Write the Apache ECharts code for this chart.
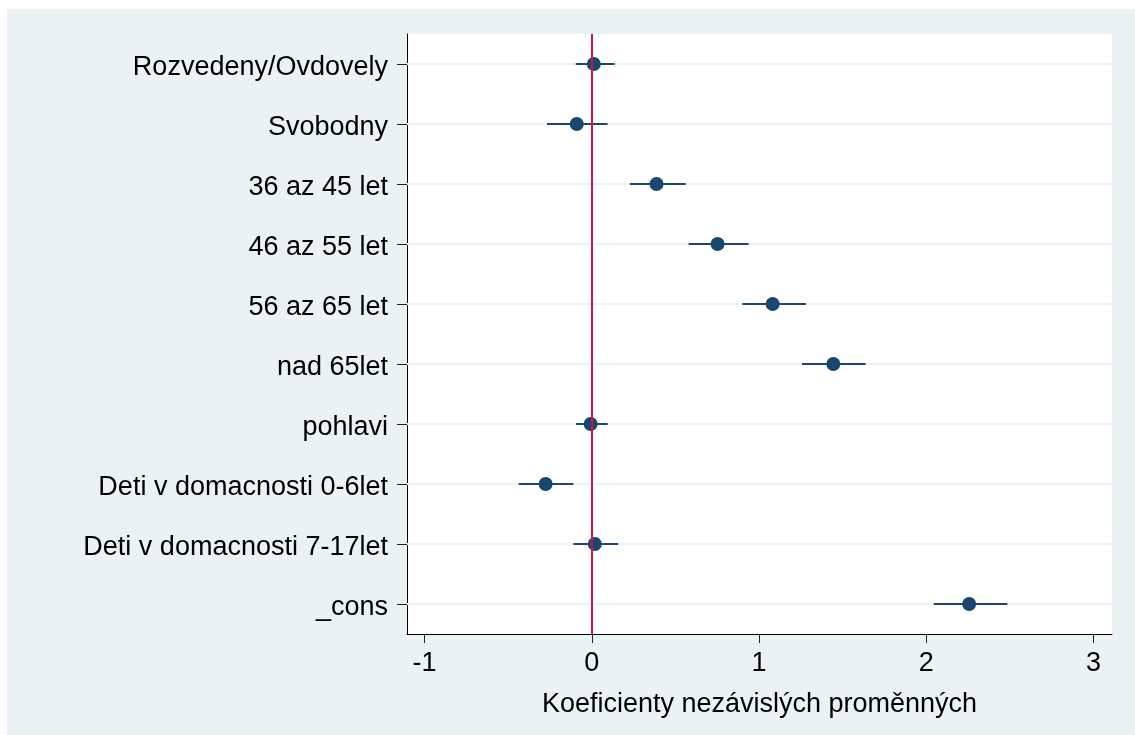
<!DOCTYPE html>
<html>
<head>
<meta charset="utf-8">
<script src="https://cdn.jsdelivr.net/npm/echarts@6/dist/echarts.min.js"></script>
<style>
html,body{margin:0;padding:0;background:#ffffff;}
#chart{position:absolute;left:7px;top:9px;width:1128px;height:726px;}
</style>
</head>
<body>
<div id="chart"></div>
<script>
var categories = ['Rozvedeny/Ovdovely','Svobodny','36 az 45 let','46 az 55 let','56 az 65 let','nad 65let','pohlavi','Deti v domacnosti 0-6let','Deti v domacnosti 7-17let','_cons'];
var coef  = [0.012, -0.090, 0.387, 0.752, 1.081, 1.444, -0.007, -0.276, 0.018, 2.256];
var lower = [-0.096, -0.268, 0.228, 0.579, 0.900, 1.256, -0.094, -0.437, -0.110, 2.044];
var upper = [0.136, 0.094, 0.561, 0.938, 1.280, 1.637, 0.095, -0.110, 0.157, 2.484];
var xTicks = [-1, 0, 1, 2, 3];
var xTitle = 'Koeficienty nezávislých proměnných';

var FONT = '"Liberation Sans", Arial, sans-serif';
var chart = echarts.init(document.getElementById('chart'));

var ciData = categories.map(function (c, i) { return [lower[i], upper[i], c]; });
var ptData = categories.map(function (c, i) { return [coef[i], c]; });
var gridData = categories.map(function (c) { return [c]; });

chart.setOption({
  backgroundColor: '#EAF2F3',
  animation: false,
  grid: {
    left: 400, top: 25, right: 23, height: 600,
    show: true, backgroundColor: '#ffffff', borderWidth: 0
  },
  xAxis: {
    type: 'value',
    min: -1.105, max: 3.11,
    axisLine: { show: true, lineStyle: { color: '#000000', width: 1 } },
    axisTick: { show: true, length: 9, customValues: xTicks, lineStyle: { color: '#222222', width: 1 } },
    axisLabel: { customValues: xTicks, color: '#000000', fontSize: 27, fontFamily: FONT, margin: 16 },
    splitLine: { show: false },
    name: xTitle,
    nameLocation: 'middle',
    nameGap: 57,
    nameTextStyle: { color: '#000000', fontSize: 27, fontFamily: FONT }
  },
  yAxis: {
    type: 'category',
    data: categories,
    inverse: true,
    axisLine: { show: true, onZero: false, lineStyle: { color: '#000000', width: 1 } },
    axisTick: { show: true, alignWithLabel: true, length: 10, lineStyle: { color: '#222222', width: 1 } },
    axisLabel: {
      color: '#000000', fontSize: 27, fontFamily: FONT, margin: 19,
      formatter: function (v) { return '{t|' + v + '}'; },
      rich: { t: { color: '#000000', fontSize: 27, fontFamily: FONT, padding: [8, 0, 0, 0] } }
    },
    splitLine: { show: false }
  },
  series: [
    {
      type: 'custom',
      z: 1,
      silent: true,
      data: gridData,
      encode: { y: 0 },
      renderItem: function (params, api) {
        var cs = params.coordSys;
        var p = api.coord([0, api.value(0)]);
        return {
          type: 'line',
          shape: { x1: cs.x, y1: p[1], x2: cs.x + cs.width, y2: p[1] },
          style: { stroke: '#EAF2F3', lineWidth: 2 }
        };
      }
    },
    {
      type: 'scatter',
      z: 2,
      data: [],
      markLine: {
        silent: true,
        symbol: ['none', 'none'],
        label: { show: false },
        lineStyle: { color: '#D0143E', width: 2, type: 'solid' },
        data: [{ xAxis: 0 }]
      }
    },
    {
      type: 'custom',
      z: 3,
      data: ciData,
      encode: { x: [0, 1], y: 2 },
      renderItem: function (params, api) {
        var a = api.coord([api.value(0), api.value(2)]);
        var b = api.coord([api.value(1), api.value(2)]);
        return {
          type: 'line',
          shape: { x1: a[0], y1: a[1], x2: b[0], y2: b[1] },
          style: { stroke: '#1A476F', lineWidth: 2 }
        };
      }
    },
    {
      type: 'scatter',
      z: 4,
      data: ptData,
      symbol: 'circle',
      symbolSize: 14,
      itemStyle: { color: '#1A476F', opacity: 1 }
    }
  ]
});
</script>
</body>
</html>
